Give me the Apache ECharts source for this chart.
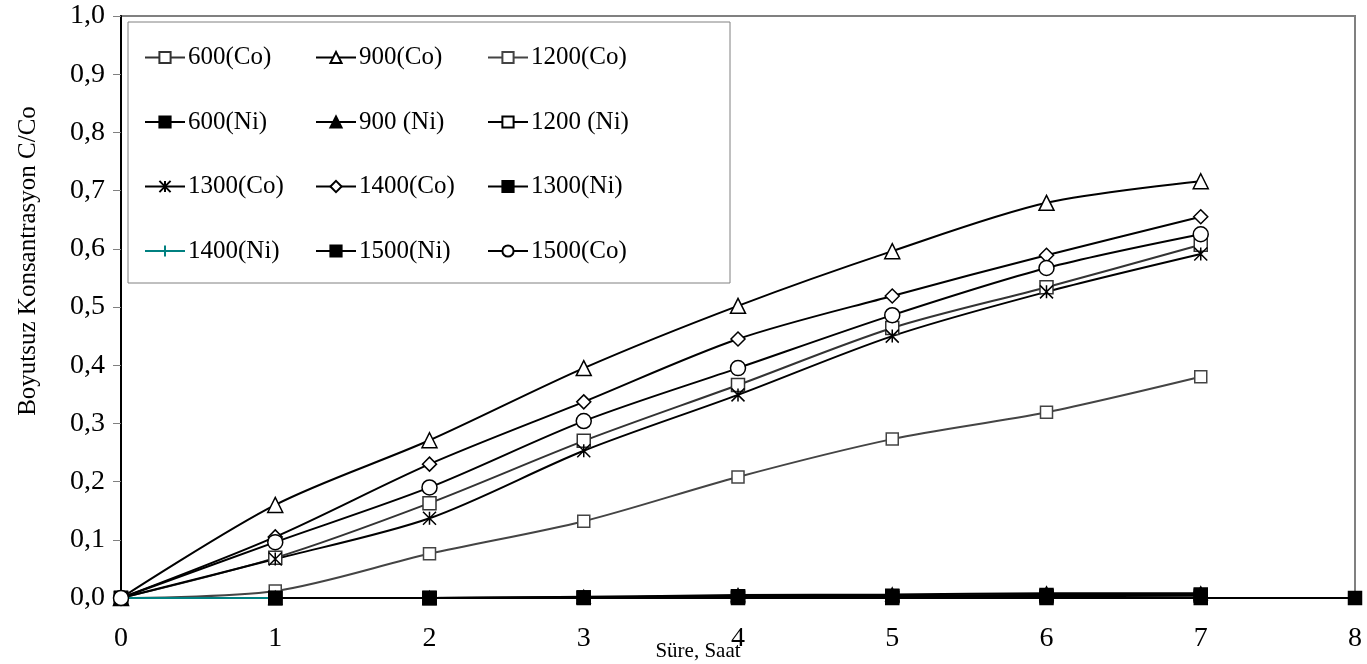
<!DOCTYPE html>
<html>
<head>
<meta charset="utf-8">
<script src="https://cdn.jsdelivr.net/npm/echarts@6/dist/echarts.min.js"></script>
<style>html,body{margin:0;padding:0;background:#fff;}#c{width:1367px;height:664px;}</style>
</head>
<body>
<div id="c"></div>
<script>
// ---- data ----
const hours = [0, 1, 2, 3, 4, 5, 6, 7];
const hoursTo8 = [1, 2, 3, 4, 5, 6, 7, 8];
const hours01 = [0, 1];

const co600  = [0, 0.069, 0.163, 0.270, 0.366, 0.464, 0.534, 0.607];
const co900  = [0, 0.160, 0.271, 0.395, 0.502, 0.596, 0.679, 0.716];
const co1200 = [0, 0.012, 0.076, 0.132, 0.208, 0.273, 0.319, 0.380];
const co1300 = [0, 0.067, 0.137, 0.253, 0.349, 0.450, 0.526, 0.591];
const co1400 = [0, 0.105, 0.230, 0.337, 0.445, 0.519, 0.589, 0.655];
const co1500 = [0, 0.096, 0.190, 0.304, 0.395, 0.486, 0.567, 0.625];

const ni600  = [0, 0, 0, 0.001, 0.003, 0.004, 0.005, 0.006];
const ni900  = [0, 0, 0, 0.002, 0.005, 0.006, 0.008, 0.008];
const ni1200 = [0, 0, 0, 0.001, 0.003, 0.004, 0.005, 0.005];
const ni1300 = [0, 0, 0, 0.001, 0.002, 0.003, 0.003, 0.004];
const ni1400 = [0, 0];
const ni1500 = [0, 0, 0, 0, 0, 0, 0, 0];

const yTickLabels = ['0,0','0,1','0,2','0,3','0,4','0,5','0,6','0,7','0,8','0,9','1,0'];
const xTitle = 'Süre, Saat';
const yTitle = 'Boyutsuz Konsantrasyon C/Co';

// ---- chart ----
const FONT = '"Liberation Serif", "Times New Roman", serif';
const pts = (xs, ys) => xs.map((x, i) => [x, ys[i]]);
const ASTERISK = 'path://M0,0 L10,10 M10,0 L0,10 M5,0 L5,10';
const PLUS = 'path://M5,0 L5,10 M0,5 L10,5';

function mk(name, xs, ys, o) {
  return {
    name: name, type: 'line', data: pts(xs, ys),
    smooth: 0.3, symbol: o.symbol, symbolSize: o.size,
    lineStyle: { color: o.line, width: o.lw || 2 },
    itemStyle: { color: o.fill, borderColor: o.border, borderWidth: o.bw || 1.5 },
    z: o.z || 2, animation: false
  };
}

const series = [
  mk('600(Co)', hours, co600, {symbol:'rect', size:13, line:'#333', fill:'#fff', border:'#333'}),
  mk('900(Co)', hours, co900, {symbol:'triangle', size:15, line:'#000', fill:'#fff', border:'#000'}),
  mk('1200(Co)', hours, co1200, {symbol:'rect', size:12, line:'#444', fill:'#fff', border:'#444'}),
  mk('600(Ni)', hours, ni600, {symbol:'rect', size:13, line:'#000', fill:'#000', border:'#000'}),
  mk('900 (Ni)', hours, ni900, {symbol:'triangle', size:13, line:'#000', fill:'#000', border:'#000'}),
  mk('1200 (Ni)', hours, ni1200, {symbol:'rect', size:11, line:'#000', fill:'#fff', border:'#000'}),
  mk('1300(Co)', hours, co1300, {symbol:ASTERISK, size:13, line:'#000', fill:'#000', border:'#000'}),
  mk('1400(Co)', hours, co1400, {symbol:'diamond', size:14, line:'#000', fill:'#fff', border:'#000'}),
  mk('1300(Ni)', hours, ni1300, {symbol:'rect', size:13, line:'#000', fill:'#000', border:'#000'}),
  mk('1400(Ni)', hours01, ni1400, {symbol:PLUS, size:12, line:'#008080', fill:'#008080', border:'#008080'}),
  mk('1500(Ni)', hoursTo8, ni1500, {symbol:'rect', size:13, line:'#000', fill:'#000', border:'#000'}),
  mk('1500(Co)', hours, co1500, {symbol:'circle', size:15, line:'#000', fill:'#fff', border:'#000'})
];

const legendCols = [
  ['600(Co)', '600(Ni)', '1300(Co)', '1400(Ni)'],
  ['900(Co)', '900 (Ni)', '1400(Co)', '1500(Ni)'],
  ['1200(Co)', '1200 (Ni)', '1300(Ni)', '1500(Co)']
];
const legendLefts = [144, 315, 487];

const legends = legendCols.map((col, i) => ({
  data: col, orient: 'vertical', left: legendLefts[i], top: 45,
  itemWidth: 40, itemHeight: 14, itemGap: 39.5, selectedMode: false,
  textStyle: { fontFamily: FONT, fontSize: 25, color: '#000', lineHeight: 25, padding: [0,0,0,-2] },
  padding: 0
}));

const chart = echarts.init(document.getElementById('c'), null, {renderer: 'canvas'});
chart.setOption({
  animation: false,
  backgroundColor: '#fff',
  grid: { left: 121, right: 12, top: 16, bottom: 66, show: true, borderColor: '#808080', borderWidth: 2, backgroundColor: 'transparent' },
  xAxis: {
    type: 'value', min: 0, max: 8, interval: 1,
    axisLine: { show: true, lineStyle: { color: '#808080', width: 1 } },
    axisTick: { show: true, length: 5, lineStyle: { color: '#808080' } },
    splitLine: { show: false },
    axisLabel: { fontFamily: FONT, fontSize: 28, color: '#000', margin: 27 }
  },
  yAxis: {
    type: 'value', min: 0, max: 1, interval: 0.1,
    axisLine: { show: true, lineStyle: { color: '#000', width: 2 } },
    axisTick: { show: true, length: 8, lineStyle: { color: '#808080' } },
    splitLine: { show: false },
    axisLabel: { fontFamily: FONT, fontSize: 28, color: '#000', margin: 16,
      formatter: (v) => yTickLabels[Math.round(v * 10)] }
  },
  legend: legends,
  graphic: [
    { type: 'rect', shape: { x: 128, y: 22, width: 602, height: 261 }, style: { fill: '#fff', stroke: '#808080', lineWidth: 1 }, z: 1 },
    { type: 'text', x: 698, y: 651, style: { text: xTitle, font: '21px ' + FONT, fill: '#000', textAlign: 'center', textVerticalAlign: 'middle' }, z: 10 },
    { type: 'text', x: 28, y: 261, rotation: Math.PI / 2, style: { text: yTitle, font: '25px ' + FONT, fill: '#000', textAlign: 'center', textVerticalAlign: 'middle' }, z: 10 }
  ],
  series: series
});
</script>
</body>
</html>
